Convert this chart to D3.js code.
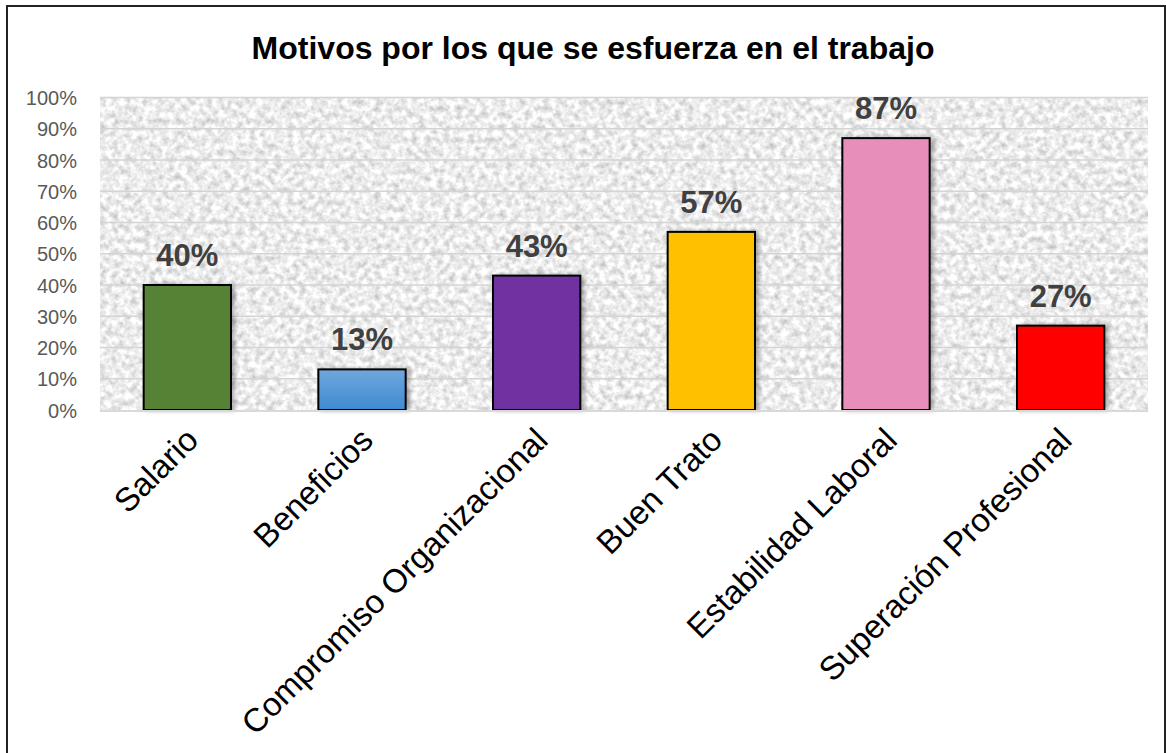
<!DOCTYPE html>
<html>
<head>
<meta charset="utf-8">
<script src="https://cdn.jsdelivr.net/npm/d3@7"></script>
<style>
    body { margin: 0; background: #fff; }
    svg text { font-family: Arial, "Liberation Sans", sans-serif; }
</style>
</head>
<body>
<div id="chart"></div>
<script>
var categories = ["Salario", "Beneficios", "Compromiso Organizacional", "Buen Trato", "Estabilidad Laboral", "Superación Profesional"];
var values = [0.40, 0.13, 0.43, 0.57, 0.87, 0.27];
var barColors = ["#548235", "url(#blueGrad)", "#7030a0", "#ffc000", "#e78fba", "#ff0000"];
var yTicks = [0, 0.1, 0.2, 0.3, 0.4, 0.5, 0.6, 0.7, 0.8, 0.9, 1.0];
var title = "Motivos por los que se esfuerza en el trabajo";

var width = 1166, height = 753;
var plotLeft = 100, plotRight = 1148, plotTop = 97.5, plotBottom = 410;

var svg = d3.select("#chart")
    .append("svg")
    .attr("width", width)
    .attr("height", height);

var defs = svg.append("defs");

// granite-like texture for the plot area
var granite = defs.append("filter")
    .attr("id", "granite")
    .attr("x", 0).attr("y", 0).attr("width", 1).attr("height", 1)
    .attr("color-interpolation-filters", "sRGB");
granite.append("feTurbulence")
    .attr("type", "fractalNoise")
    .attr("baseFrequency", 0.16)
    .attr("numOctaves", 3)
    .attr("seed", 7)
    .attr("result", "noise");
granite.append("feColorMatrix")
    .attr("in", "noise")
    .attr("type", "matrix")
    .attr("values", "0.42 0 0 0 0.715  0.42 0 0 0 0.715  0.42 0 0 0 0.715  0 0 0 0 1");

var blue = defs.append("linearGradient")
    .attr("id", "blueGrad")
    .attr("x1", 0).attr("y1", 0).attr("x2", 0).attr("y2", 1);
blue.append("stop").attr("offset", "0%").attr("stop-color", "#6fa7dc");
blue.append("stop").attr("offset", "100%").attr("stop-color", "#3f8bd3");

var shadow = defs.append("filter")
    .attr("id", "barShadow")
    .attr("x", "-20%").attr("y", "-10%").attr("width", "150%").attr("height", "120%");
shadow.append("feDropShadow")
    .attr("dx", 3).attr("dy", 0)
    .attr("stdDeviation", 2)
    .attr("flood-color", "#000")
    .attr("flood-opacity", 0.3);

// outer frame
svg.append("path")
    .attr("d", "M7," + height + "V6H1165V" + height)
    .attr("fill", "none")
    .attr("stroke", "#222")
    .attr("stroke-width", 2);

var x = d3.scaleBand()
    .domain(categories)
    .range([plotLeft, plotRight])
    .paddingInner(0.5)
    .paddingOuter(0.25);

var y = d3.scaleLinear()
    .domain([0, 1])
    .range([plotBottom, plotTop]);

// plot area background
svg.append("rect")
    .attr("x", plotLeft)
    .attr("y", plotTop)
    .attr("width", plotRight - plotLeft)
    .attr("height", plotBottom - plotTop)
    .attr("filter", "url(#granite)");

// gridlines
svg.append("g")
    .selectAll("line")
    .data(yTicks.slice(1))
    .enter()
    .append("line")
    .attr("x1", plotLeft)
    .attr("x2", plotRight)
    .attr("y1", function (d) { return y(d); })
    .attr("y2", function (d) { return y(d); })
    .attr("stroke", "#d4d4d4")
    .attr("stroke-width", 1.5);

// y axis labels
var yAxis = d3.axisLeft(y)
    .tickValues(yTicks)
    .tickFormat(d3.format(".0%"))
    .tickSize(0)
    .tickPadding(0);

var yg = svg.append("g")
    .attr("transform", "translate(77,0)")
    .call(yAxis);
yg.select(".domain").remove();
yg.selectAll("text")
    .attr("font-size", 20)
    .attr("font-family", "Arial, 'Liberation Sans', sans-serif")
    .attr("fill", "#595959")
    .attr("dy", "0.36em");

// bars
svg.append("g")
    .selectAll("rect")
    .data(values)
    .enter()
    .append("rect")
    .attr("x", function (d, i) { return x(categories[i]); })
    .attr("y", function (d) { return y(d); })
    .attr("width", x.bandwidth())
    .attr("height", function (d) { return y(0) - y(d); })
    .attr("fill", function (d, i) { return barColors[i]; })
    .attr("stroke", "#000")
    .attr("stroke-width", 2)
    .attr("filter", "url(#barShadow)");

// x axis baseline
svg.append("line")
    .attr("x1", plotLeft)
    .attr("x2", plotRight)
    .attr("y1", y(0) + 1)
    .attr("y2", y(0) + 1)
    .attr("stroke", "#d9d9d9")
    .attr("stroke-width", 2);

// value labels
svg.append("g")
    .selectAll("text")
    .data(values)
    .enter()
    .append("text")
    .attr("x", function (d, i) { return x(categories[i]) + x.bandwidth() / 2; })
    .attr("y", function (d) { return y(d) - 19; })
    .attr("text-anchor", "middle")
    .attr("font-size", 31)
    .attr("font-weight", "bold")
    .attr("fill", "#404040")
    .text(function (d) { return d3.format(".0%")(d); });

// category labels, rotated
svg.append("g")
    .selectAll("text")
    .data(categories)
    .enter()
    .append("text")
    .attr("transform", function (d) {
        return "translate(" + (x(d) + x.bandwidth() / 2 - 8) + ",421) rotate(-45)";
    })
    .attr("text-anchor", "end")
    .attr("dy", "0.9em")
    .attr("font-size", 33)
    .attr("fill", "#000")
    .text(function (d) { return d; });

// title
svg.append("text")
    .attr("x", 593)
    .attr("y", 59)
    .attr("text-anchor", "middle")
    .attr("font-size", 32)
    .attr("font-weight", "bold")
    .attr("fill", "#000")
    .text(title);
</script>
</body>
</html>
